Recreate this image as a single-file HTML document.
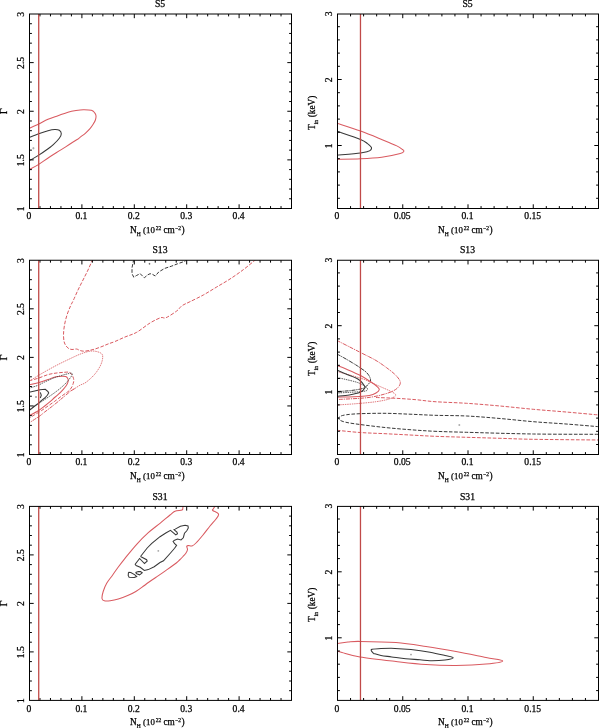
<!DOCTYPE html><html><head><meta charset="utf-8"><style>html,body{margin:0;padding:0;background:#fff;}svg{display:block;will-change:transform;}</style></head><body>
<svg width="600" height="728" viewBox="0 0 600 728" font-family='"Liberation Serif", serif' fill="#000"><style>text{stroke:#000;stroke-width:0.25px;}</style>
<rect width="600" height="728" fill="#fff"/>
<defs>
<clipPath id="cl0"><rect x="29.5" y="14.5" width="262" height="194"/></clipPath>
<clipPath id="cr0"><rect x="337.5" y="14.5" width="261" height="194"/></clipPath>
<clipPath id="cl1"><rect x="29.5" y="260.5" width="262" height="194"/></clipPath>
<clipPath id="cr1"><rect x="337.5" y="260.5" width="261" height="194"/></clipPath>
<clipPath id="cl2"><rect x="29.5" y="506.5" width="262" height="194"/></clipPath>
<clipPath id="cr2"><rect x="337.5" y="506.5" width="261" height="194"/></clipPath>
</defs>
<g clip-path="url(#cl0)">
<path d="M29,128.4C30.62,127.67 35.53,125.52 38.7,124C41.87,122.48 44.78,120.68 48,119.3C51.22,117.92 54.67,116.88 58,115.7C61.33,114.52 65,113.07 68,112.2C71,111.33 73.45,110.92 76,110.5C78.55,110.08 80.75,109.73 83.3,109.7C85.85,109.67 89.4,109.78 91.3,110.3C93.2,110.82 93.92,111.88 94.7,112.8C95.48,113.72 95.88,114.6 96,115.8C96.12,117 95.85,118.63 95.4,120C94.95,121.37 94.2,122.55 93.3,124C92.4,125.45 91.33,127.15 90,128.7C88.67,130.25 86.97,131.87 85.3,133.3C83.63,134.73 81.43,136.22 80,137.3C78.57,138.38 79.82,137.75 76.7,139.8C73.58,141.85 65.95,146.65 61.3,149.6C56.65,152.55 52.62,155 48.8,157.5C44.98,160 41.7,162.55 38.4,164.6C35.1,166.65 30.57,168.93 29,169.8" stroke="#d95a60" stroke-width="1.05" fill="none"/>
<path d="M29,137.5C30.62,136.87 35.53,134.83 38.7,133.7C41.87,132.57 45.33,131.4 48,130.7C50.67,130 52.82,129.57 54.7,129.5C56.58,129.43 58.2,129.6 59.3,130.3C60.4,131 61.3,132.37 61.3,133.7C61.3,135.03 60.63,136.47 59.3,138.3C57.97,140.13 55.05,143.05 53.3,144.7C51.55,146.35 51.28,146.42 48.8,148.2C46.32,149.98 41.03,153.67 38.4,155.4C35.77,157.13 34.57,157.75 33,158.6C31.43,159.45 29.67,160.18 29,160.5" stroke="#383838" stroke-width="1.05" fill="none"/>
<path d="M32.2,148.2H34.6M33.4,147V149.4" stroke="#888" stroke-width="0.6"/>
</g>
<g clip-path="url(#cr0)">
<path d="M337,123.3C340.92,124.6 353.05,128.4 360.5,131.1C367.95,133.8 375.65,137.03 381.7,139.5C387.75,141.97 393.33,144.23 396.8,145.9C400.27,147.57 401.33,148.62 402.5,149.5C403.67,150.38 404.17,150.53 403.8,151.2C403.43,151.87 403.98,152.5 400.3,153.5C396.62,154.5 388.33,156.32 381.7,157.2C375.07,158.08 367.95,158.45 360.5,158.8C353.05,159.15 340.92,159.22 337,159.3" stroke="#d95a60" stroke-width="1.05" fill="none"/>
<path d="M337,131.3C340.92,132.67 355.42,137.45 360.5,139.5C365.58,141.55 365.7,142.32 367.5,143.6C369.3,144.88 370.75,146.17 371.3,147.2C371.85,148.23 371.43,149.07 370.8,149.8C370.17,150.53 369.22,151.08 367.5,151.6C365.78,152.12 365.58,152.28 360.5,152.9C355.42,153.52 340.92,154.9 337,155.3" stroke="#383838" stroke-width="1.05" fill="none"/>
</g>
<g clip-path="url(#cl1)">
<path d="M92.8,259C92,260.83 89.63,266.5 88,270C86.37,273.5 84.67,276.67 83,280C81.33,283.33 79.58,286.67 78,290C76.42,293.33 74.75,297.33 73.5,300C72.25,302.67 71.58,303.5 70.5,306C69.42,308.5 68,311.83 67,315C66,318.17 65.08,321.67 64.5,325C63.92,328.33 63.5,332 63.5,335C63.5,338 63.75,340.83 64.5,343C65.25,345.17 66.75,346.92 68,348C69.25,349.08 70.58,349.33 72,349.5C73.42,349.67 75.17,348.83 76.5,349C77.83,349.17 78.75,350.13 80,350.5C81.25,350.87 82.5,351.2 84,351.2C85.5,351.2 87.17,350.87 89,350.5C90.83,350.13 92.83,349.67 95,349C97.17,348.33 99.83,347.33 102,346.5C104.17,345.67 105.83,344.83 108,344C110.17,343.17 112.17,342.67 115,341.5C117.83,340.33 121.38,338.53 125,337C128.62,335.47 132.53,334.63 136.7,332.3C140.87,329.97 146,325.43 150,323C154,320.57 158.03,318.58 160.7,317.7C163.37,316.82 163.33,318.82 166,317.7C168.67,316.58 174.03,313 176.7,311C179.37,309 179.78,307.25 182,305.7C184.22,304.15 186.45,303.48 190,301.7C193.55,299.92 198.85,297.45 203.3,295C207.75,292.55 212.25,289.67 216.7,287C221.15,284.33 225.57,281.88 230,279C234.43,276.12 238.88,273.03 243.3,269.7C247.72,266.37 254.3,260.78 256.5,259" stroke="#d95a60" stroke-width="1" fill="none" stroke-dasharray="3.6,1.6"/>
<path d="M133.8,259 L132,267.8 L132,273.7 L133.75,277.2 L136.7,275.4 L140.2,273.7 L144.3,277.8 L147.8,274.8 L150.1,273.7 L152.4,274.3 L155.3,276 L158.8,271.9 L164.7,268.4 L171.7,266.1 L177.5,263.8 L184.5,261.4 L188,259" stroke="#383838" stroke-width="1" fill="none" stroke-dasharray="3.6,1.6"/>
<path d="M148.6,263.8H150.4M149.5,262.9V264.7" stroke="#444" stroke-width="0.6"/>
<path d="M29,381.5C30.62,380.47 34.42,377.83 38.7,375.3C42.98,372.77 49.82,368.9 54.7,366.3C59.58,363.7 63.57,361.8 68,359.7C72.43,357.6 77.3,355.15 81.3,353.7C85.3,352.25 88.77,351.12 92,351C95.23,350.88 98.92,352 100.7,353C102.48,354 102.7,355 102.7,357C102.7,359 102.03,362.12 100.7,365C99.37,367.88 97.15,371.42 94.7,374.3C92.25,377.18 88.45,380.48 86,382.3C83.55,384.12 81.88,384.15 80,385.2C78.12,386.25 76.3,387.6 74.7,388.6C73.1,389.6 71.12,390.77 70.4,391.2" stroke="#d95a60" stroke-width="0.8" fill="none" stroke-dasharray="1.5,0.8"/>
<path d="M74.7,388.6C73.98,389.03 71.52,390.42 70.4,391.2C69.28,391.98 69.4,392.12 68,393.3C66.6,394.48 64,396.63 62,398.3C60,399.97 58,401.68 56,403.3C54,404.92 51.88,406.55 50,408C48.12,409.45 46.25,410.78 44.7,412C43.15,413.22 42.03,414.3 40.7,415.3C39.37,416.3 38.65,416.72 36.7,418C34.75,419.28 30.28,422.17 29,423" stroke="#d95a60" stroke-width="1" fill="none" stroke-dasharray="4,0.9,1.2,0.9"/>
<path d="M29,380.8C30.55,380.37 35.13,379.23 38.3,378.2C41.47,377.17 45.05,375.45 48,374.6C50.95,373.75 53.33,373.48 56,373.1C58.67,372.72 61.78,372.43 64,372.3C66.22,372.17 67.97,371.87 69.3,372.3C70.63,372.73 71.28,373.83 72,374.9C72.72,375.97 73.33,377.53 73.6,378.7C73.87,379.87 73.87,380.57 73.6,381.9C73.33,383.23 72.72,385.27 72,386.7C71.28,388.13 70.28,389.45 69.3,390.5C68.32,391.55 67.43,392.03 66.1,393C64.77,393.97 63.2,394.92 61.3,396.3C59.4,397.68 56.92,399.68 54.7,401.3C52.48,402.92 50.23,404.43 48,406C45.77,407.57 43.52,409.25 41.3,410.7C39.08,412.15 36.75,413.43 34.7,414.7C32.65,415.97 29.95,417.7 29,418.3" stroke="#d95a60" stroke-width="1" fill="none" stroke-dasharray="3.6,1.6"/>
<path d="M29,385C30.55,384.62 35.13,383.6 38.3,382.7C41.47,381.8 45.5,380.48 48,379.6C50.5,378.72 51.52,377.93 53.3,377.4C55.08,376.87 56.65,376.55 58.7,376.4C60.75,376.25 64.1,376.15 65.6,376.5C67.1,376.85 67.25,377.78 67.7,378.5C68.15,379.22 68.35,379.97 68.3,380.8C68.25,381.63 67.78,382.63 67.4,383.5C67.02,384.37 66.68,385.03 66,386C65.32,386.97 64.63,387.85 63.3,389.3C61.97,390.75 59.55,393.25 58,394.7C56.45,396.15 55.12,397 54,398C52.88,399 52.85,399.37 51.3,400.7C49.75,402.03 46.87,404.33 44.7,406C42.53,407.67 40.92,409.07 38.3,410.7C35.68,412.33 30.55,414.95 29,415.8" stroke="#d95a60" stroke-width="1.05" fill="none"/>
<path d="M29,388.3C30.5,387.8 35.38,386.35 38,385.3C40.62,384.25 41.87,383.3 44.7,382C47.53,380.7 51.62,378.75 55,377.5C58.38,376.25 62.25,375.22 65,374.5C67.75,373.78 70.37,373.03 71.5,373.2C72.63,373.37 72.33,374.32 71.8,375.5C71.27,376.68 69.35,378.97 68.3,380.3C67.25,381.63 66.83,382.17 65.5,383.5C64.17,384.83 62.07,386.8 60.3,388.3C58.53,389.8 56.7,391.17 54.9,392.5C53.1,393.83 51.2,395.13 49.5,396.3C47.8,397.47 46.62,398.22 44.7,399.5C42.78,400.78 40.62,402.25 38,404C35.38,405.75 30.5,409 29,410" stroke="#383838" stroke-width="0.8" fill="none" stroke-dasharray="1.5,0.8"/>
<path d="M29,392.3 L34.7,391 L40,389.7 L45.3,389.3 L48,391.7 L48.7,393 L47.3,395.3 L44.7,398 L41.3,400.7 L38.3,403.3 L34.7,406 L30.7,409.3 L29,410.5" stroke="#383838" stroke-width="1.05" fill="none"/>
<path d="M40.3,392.3 L41.3,395.3 L40.3,398" stroke="#383838" stroke-width="1.05" fill="none"/>
<path d="M35.1,397H36.9M36,396.1V397.9" stroke="#666" stroke-width="0.6"/>
</g>
<g clip-path="url(#cr1)">
<path d="M337,340.5C340.92,342.5 354,349.17 360.5,352.5C367,355.83 371.37,357.75 376,360.5C380.63,363.25 384.97,366.5 388.3,369C391.63,371.5 394,373.33 396,375.5C398,377.67 399.97,380 400.3,382C400.63,384 399.38,385.92 398,387.5C396.62,389.08 394.5,390.33 392,391.5C389.5,392.67 386.33,393.58 383,394.5C379.67,395.42 375.83,396.37 372,397C368.17,397.63 365.83,397.88 360,398.3C354.17,398.72 340.83,399.3 337,399.5" stroke="#d95a60" stroke-width="1" fill="none" stroke-dasharray="4,0.9,1.2,0.9"/>
<path d="M337,354C338.5,354.83 342.83,357.17 346,359C349.17,360.83 353.58,363.5 356,365C358.42,366.5 358.83,366.83 360.5,368C362.17,369.17 364.5,370.58 366,372C367.5,373.42 368.75,375 369.5,376.5C370.25,378 370.75,379.67 370.5,381C370.25,382.33 369.08,383.33 368,384.5C366.92,385.67 366.17,387.08 364,388C361.83,388.92 358,389.5 355,390C352,390.5 349,390.75 346,391C343,391.25 338.5,391.42 337,391.5" stroke="#383838" stroke-width="1" fill="none" stroke-dasharray="4,0.9,1.2,0.9"/>
<path d="M337,371.5C341,372.63 355.33,376.47 361,378.3C366.67,380.13 367.83,381.13 371,382.5C374.17,383.87 377,385.17 380,386.5C383,387.83 386.58,389.33 389,390.5C391.42,391.67 393.42,392.62 394.5,393.5C395.58,394.38 396.37,394.88 395.5,395.8C394.63,396.72 392.55,398.02 389.3,399C386.05,399.98 381.55,400.92 376,401.7C370.45,402.48 362.5,403.15 356,403.7C349.5,404.25 340.17,404.78 337,405" stroke="#d95a60" stroke-width="0.8" fill="none" stroke-dasharray="1.5,0.8"/>
<path d="M337,365.5C338.5,366.08 342.08,367.33 346,369C349.92,370.67 356.33,373.33 360.5,375.5C364.67,377.67 368.33,380.25 371,382C373.67,383.75 375.12,384.75 376.5,386C377.88,387.25 379.38,388.33 379.3,389.5C379.22,390.67 377.67,392 376,393C374.33,394 371.97,394.92 369.3,395.5C366.63,396.08 365.38,396.22 360,396.5C354.62,396.78 340.83,397.08 337,397.2" stroke="#d95a60" stroke-width="1.05" fill="none"/>
<path d="M337,370C338.5,370.67 342.83,372.67 346,374C349.17,375.33 353.58,376.83 356,378C358.42,379.17 359.25,379.92 360.5,381C361.75,382.08 362.78,383.33 363.5,384.5C364.22,385.67 365.38,386.7 364.8,388C364.22,389.3 362.58,391.13 360,392.3C357.42,393.47 353.13,394.33 349.3,395C345.47,395.67 339.05,396.08 337,396.3" stroke="#383838" stroke-width="1.05" fill="none"/>
<path d="M337,377.5C338.5,377.83 342.83,378.75 346,379.5C349.17,380.25 353.5,381.25 356,382C358.5,382.75 359.33,383.17 361,384C362.67,384.83 364.92,386.08 366,387C367.08,387.92 367.83,388.78 367.5,389.5C367.17,390.22 366.92,390.83 364,391.3C361.08,391.77 354.5,392.02 350,392.3C345.5,392.58 339.17,392.88 337,393" stroke="#383838" stroke-width="0.8" fill="none" stroke-dasharray="1.5,0.8"/>
<path d="M376,397.5C379.33,397.63 389.33,397.93 396,398.3C402.67,398.67 409.5,399.13 416,399.7C422.5,400.27 426.55,401.1 435,401.7C443.45,402.3 455.87,402.58 466.7,403.3C477.53,404.02 488.9,405 500,406C511.1,407 522.3,408.3 533.3,409.3C544.3,410.3 555.05,411.05 566,412C576.95,412.95 593.5,414.5 599,415" stroke="#d95a60" stroke-width="1" fill="none" stroke-dasharray="3.6,1.6"/>
<path d="M337,430.3C340.83,430.67 352,431.93 360,432.5C368,433.07 376.67,433.28 385,433.7C393.33,434.12 401.67,434.57 410,435C418.33,435.43 425.55,435.92 435,436.3C444.45,436.68 455.87,436.97 466.7,437.3C477.53,437.63 488.9,437.97 500,438.3C511.1,438.63 516.8,439.02 533.3,439.3C549.8,439.58 588.05,439.88 599,440" stroke="#d95a60" stroke-width="1" fill="none" stroke-dasharray="3.6,1.6"/>
<path d="M599,426.7C593.5,426.25 576.95,424.83 566,424C555.05,423.17 544.3,422.62 533.3,421.7C522.3,420.78 511.1,419.45 500,418.5C488.9,417.55 477.53,416.53 466.7,416C455.87,415.47 444.45,415.6 435,415.3C425.55,415 418.33,414.53 410,414.2C401.67,413.87 393.33,413.38 385,413.3C376.67,413.22 366.5,413.45 360,413.7C353.5,413.95 349.42,414.28 346,414.8C342.58,415.32 340.58,415.97 339.5,416.8C338.42,417.63 338.42,418.88 339.5,419.8C340.58,420.72 342.58,421.52 346,422.3C349.42,423.08 353.5,423.63 360,424.5C366.5,425.37 376.67,426.63 385,427.5C393.33,428.37 401.67,429.07 410,429.7C418.33,430.33 425.55,430.87 435,431.3C444.45,431.73 450.32,431.85 466.7,432.3C483.08,432.75 511.25,433.67 533.3,434C555.35,434.33 588.05,434.25 599,434.3" stroke="#383838" stroke-width="1" fill="none" stroke-dasharray="3.6,1.6"/>
<path d="M458.3,425H460.3M459.3,424V426" stroke="#888" stroke-width="0.6"/>
</g>
<g clip-path="url(#cl2)">
<path d="M183.2,505C183.13,505.5 183,507.17 182.8,508C182.6,508.83 183.3,509.47 182,510C180.7,510.53 177,510.37 175,511.2C173,512.03 172.5,512.98 170,515C167.5,517.02 163.62,520.35 160,523.3C156.38,526.25 152.18,529.2 148.3,532.7C144.42,536.2 140.58,540.03 136.7,544.3C132.82,548.57 128.07,554.52 125,558.3C121.93,562.08 120.38,564.18 118.3,567C116.22,569.82 114.43,572.48 112.5,575.2C110.57,577.92 108.25,580.58 106.7,583.3C105.15,586.02 103.98,588.97 103.2,591.5C102.42,594.03 101.82,596.95 102,598.5C102.18,600.05 102.93,600.42 104.3,600.8C105.67,601.18 107.87,601.08 110.2,600.8C112.53,600.52 115.38,599.97 118.3,599.1C121.22,598.23 124.78,596.87 127.7,595.6C130.62,594.33 133.08,593.15 135.8,591.5C138.52,589.85 141.85,587.25 144,585.7C146.15,584.15 146.75,583.57 148.7,582.2C150.65,580.83 152.98,579.35 155.7,577.5C158.42,575.65 161.57,573.52 165,571.1C168.43,568.68 173.8,564.93 176.3,563C178.8,561.07 178.88,560.58 180,559.5C181.12,558.42 182,557.58 183,556.5C184,555.42 185.25,554.17 186,553C186.75,551.83 187.38,550.62 187.5,549.5C187.62,548.38 186.53,546.95 186.7,546.3C186.87,545.65 187.62,545.65 188.5,545.6C189.38,545.55 190.75,546.43 192,546C193.25,545.57 194.17,544.83 196,543C197.83,541.17 200.67,537.83 203,535C205.33,532.17 207.83,528.67 210,526C212.17,523.33 214.58,521 216,519C217.42,517 219.03,515.42 218.5,514C217.97,512.58 213.68,511.33 212.8,510.5C211.92,509.67 212.7,509.92 213.2,509C213.7,508.08 215.37,505.67 215.8,505" stroke="#d95a60" stroke-width="1.05" fill="none"/>
<path d="M140.5,556.5 L147.2,548 L151.8,543.3 L160,536.7 L165.8,533 L170.5,530.3 L175.8,534.9 L177.5,533.8 L176.9,532 L174,529.7 L175.2,529.1 L180.4,526.2 L185.1,525.3 L188,525.9 L188.3,527.9 L186.8,530.8 L184.5,533.2 L183.9,535.5 L183.3,537.8 L181,539.9 L177.5,539 L174.6,540.2 L173.1,541.3 L174.6,543.7 L176.6,545.4 L174.6,548.3 L170.5,553 L163.5,560.8 L160,562.5 L154.2,566.7 L148.3,569.6 L144.3,570.5 L140.2,567.3 L136.1,565.5 L135.2,564.3 L139.6,558.5 L144.5,563.5 L147.2,561.1 L146.6,559.7 L140.5,556.5" stroke="#383838" stroke-width="1.05" fill="none"/>
<path d="M128.5,572.2 L130.8,572.5 L134.9,574.8 L136.7,576.6 L134.3,577.5 L129.1,577.2 L128.2,575.4 L128.5,572.2" stroke="#383838" stroke-width="1.05" fill="none"/>
<path d="M135.5,572.5 L138.4,571.6 L140.5,571.6 L142.2,572.8 L139.6,574.8 L136.7,573.7 L135.5,572.5" stroke="#383838" stroke-width="1.05" fill="none"/>
<path d="M157.4,550.9H159.2M158.3,550V551.8" stroke="#888" stroke-width="0.6"/>
</g>
<g clip-path="url(#cr2)">
<path d="M337,643.5C338.83,643.25 344.17,642.35 348,642C351.83,641.65 352,641.3 360,641.4C368,641.5 385,641.75 396,642.6C407,643.45 416,645 426,646.5C436,648 446,649.75 456,651.6C466,653.45 478.22,656.05 486,657.6C493.78,659.15 502.7,659.83 502.7,660.9C502.7,661.97 493.78,663.25 486,664C478.22,664.75 466,665.32 456,665.4C446,665.48 436,665.15 426,664.5C416,663.85 407,662.75 396,661.5C385,660.25 369,658.5 360,657C351,655.5 345.83,653.5 342,652.5C338.17,651.5 337.83,651.25 337,651" stroke="#d95a60" stroke-width="1.05" fill="none"/>
<path d="M373.5,653.4C373.15,652.75 370.15,650.3 371.4,649.5C372.65,648.7 377.07,648.78 381,648.6C384.93,648.42 390,648.25 395,648.4C400,648.55 405.17,648.87 411,649.5C416.83,650.13 424.33,651.2 430,652.2C435.67,653.2 441.13,654.58 445,655.5C448.87,656.42 453.2,656.95 453.2,657.7C453.2,658.45 448.87,659.5 445,660C441.13,660.5 434.17,660.75 430,660.7C425.83,660.65 424.03,660.02 420,659.7C415.97,659.38 410.52,659.27 405.8,658.8C401.08,658.33 395.83,657.45 391.7,656.9C387.57,656.35 384.03,656.08 381,655.5C377.97,654.92 374.75,653.75 373.5,653.4" stroke="#383838" stroke-width="1.05" fill="none"/>
<path d="M410.1,654.6H411.9M411,653.7V655.5" stroke="#888" stroke-width="0.6"/>
</g>
<path d="M39.98,208.5v-2.4M39.98,14v2.4M50.46,208.5v-2.4M50.46,14v2.4M60.94,208.5v-2.4M60.94,14v2.4M71.42,208.5v-2.4M71.42,14v2.4M81.9,208.5v-4.2M81.9,14v4.2M92.38,208.5v-2.4M92.38,14v2.4M102.86,208.5v-2.4M102.86,14v2.4M113.34,208.5v-2.4M113.34,14v2.4M123.82,208.5v-2.4M123.82,14v2.4M134.3,208.5v-4.2M134.3,14v4.2M144.78,208.5v-2.4M144.78,14v2.4M155.26,208.5v-2.4M155.26,14v2.4M165.74,208.5v-2.4M165.74,14v2.4M176.22,208.5v-2.4M176.22,14v2.4M186.7,208.5v-4.2M186.7,14v4.2M197.18,208.5v-2.4M197.18,14v2.4M207.66,208.5v-2.4M207.66,14v2.4M218.14,208.5v-2.4M218.14,14v2.4M228.62,208.5v-2.4M228.62,14v2.4M239.1,208.5v-4.2M239.1,14v4.2M249.58,208.5v-2.4M249.58,14v2.4M260.06,208.5v-2.4M260.06,14v2.4M270.54,208.5v-2.4M270.54,14v2.4M281.02,208.5v-2.4M281.02,14v2.4M29.5,198.78h2.4M291.5,198.78h-2.4M29.5,189.05h2.4M291.5,189.05h-2.4M29.5,179.32h2.4M291.5,179.32h-2.4M29.5,169.6h2.4M291.5,169.6h-2.4M29.5,159.88h4.2M291.5,159.88h-4.2M29.5,150.15h2.4M291.5,150.15h-2.4M29.5,140.43h2.4M291.5,140.43h-2.4M29.5,130.7h2.4M291.5,130.7h-2.4M29.5,120.97h2.4M291.5,120.97h-2.4M29.5,111.25h4.2M291.5,111.25h-4.2M29.5,101.52h2.4M291.5,101.52h-2.4M29.5,91.8h2.4M291.5,91.8h-2.4M29.5,82.07h2.4M291.5,82.07h-2.4M29.5,72.35h2.4M291.5,72.35h-2.4M29.5,62.62h4.2M291.5,62.62h-4.2M29.5,52.9h2.4M291.5,52.9h-2.4M29.5,43.17h2.4M291.5,43.17h-2.4M29.5,33.45h2.4M291.5,33.45h-2.4M29.5,23.72h2.4M291.5,23.72h-2.4" stroke="#000" stroke-width="1" fill="none"/>
<text x="29" y="219.4" text-anchor="middle" font-size="9.6" >0</text>
<text x="81.4" y="219.4" text-anchor="middle" font-size="9.6" >0.1</text>
<text x="133.8" y="219.4" text-anchor="middle" font-size="9.6" >0.2</text>
<text x="186.2" y="219.4" text-anchor="middle" font-size="9.6" >0.3</text>
<text x="238.6" y="219.4" text-anchor="middle" font-size="9.6" >0.4</text>
<text transform="translate(23.8,208.8) rotate(-90)" text-anchor="middle" font-size="9.6" >1</text>
<text transform="translate(23.8,160.18) rotate(-90)" text-anchor="middle" font-size="9.6" >1.5</text>
<text transform="translate(23.8,111.55) rotate(-90)" text-anchor="middle" font-size="9.6" >2</text>
<text transform="translate(23.8,62.92) rotate(-90)" text-anchor="middle" font-size="9.6" >2.5</text>
<text transform="translate(23.8,14.3) rotate(-90)" text-anchor="middle" font-size="9.6" >3</text>
<text x="160" y="7.1" text-anchor="middle" font-size="9.7" >S5</text>
<text x="129.9" y="232.6" font-size="9.3">N</text>
<text x="136.7" y="235.6" font-size="5.5">H</text>
<text x="143.1" y="232.6" font-size="8.8">(10</text>
<text x="155.8" y="229.6" font-size="5.5">22</text>
<text x="163.4" y="232.6" font-size="9.3">cm</text>
<text x="175.1" y="229.6" font-size="5.5">&#8722;2</text>
<text x="181.5" y="232.6" font-size="9.3">)</text>
<text transform="translate(6.8,111.25) rotate(-90)" text-anchor="middle" font-size="10.4" >&#915;</text>
<path d="M38.72,14V208.5" stroke="#c04a48" stroke-width="1.3"/>
<path d="M350.55,208.5v-2.4M350.55,14v2.4M363.6,208.5v-2.4M363.6,14v2.4M376.65,208.5v-2.4M376.65,14v2.4M389.7,208.5v-2.4M389.7,14v2.4M402.75,208.5v-4.2M402.75,14v4.2M415.8,208.5v-2.4M415.8,14v2.4M428.85,208.5v-2.4M428.85,14v2.4M441.9,208.5v-2.4M441.9,14v2.4M454.95,208.5v-2.4M454.95,14v2.4M468,208.5v-4.2M468,14v4.2M481.05,208.5v-2.4M481.05,14v2.4M494.1,208.5v-2.4M494.1,14v2.4M507.15,208.5v-2.4M507.15,14v2.4M520.2,208.5v-2.4M520.2,14v2.4M533.25,208.5v-4.2M533.25,14v4.2M546.3,208.5v-2.4M546.3,14v2.4M559.35,208.5v-2.4M559.35,14v2.4M572.4,208.5v-2.4M572.4,14v2.4M585.45,208.5v-2.4M585.45,14v2.4M337.5,198.3h2.4M598.5,198.3h-2.4M337.5,185.1h2.4M598.5,185.1h-2.4M337.5,171.9h2.4M598.5,171.9h-2.4M337.5,158.7h2.4M598.5,158.7h-2.4M337.5,145.5h4.2M598.5,145.5h-4.2M337.5,132.3h2.4M598.5,132.3h-2.4M337.5,119.1h2.4M598.5,119.1h-2.4M337.5,105.9h2.4M598.5,105.9h-2.4M337.5,92.7h2.4M598.5,92.7h-2.4M337.5,79.5h4.2M598.5,79.5h-4.2M337.5,66.3h2.4M598.5,66.3h-2.4M337.5,53.1h2.4M598.5,53.1h-2.4M337.5,39.9h2.4M598.5,39.9h-2.4M337.5,26.7h2.4M598.5,26.7h-2.4" stroke="#000" stroke-width="1" fill="none"/>
<text x="337" y="219.4" text-anchor="middle" font-size="9.6" >0</text>
<text x="402.25" y="219.4" text-anchor="middle" font-size="9.6" >0.05</text>
<text x="467.5" y="219.4" text-anchor="middle" font-size="9.6" >0.1</text>
<text x="532.75" y="219.4" text-anchor="middle" font-size="9.6" >0.15</text>
<text transform="translate(331.9,145.8) rotate(-90)" text-anchor="middle" font-size="9.6" >1</text>
<text transform="translate(331.9,79.8) rotate(-90)" text-anchor="middle" font-size="9.6" >2</text>
<text transform="translate(331.9,13.8) rotate(-90)" text-anchor="middle" font-size="9.6" >3</text>
<text x="467.5" y="7.1" text-anchor="middle" font-size="9.7" >S5</text>
<text x="437.9" y="232.6" font-size="9.3">N</text>
<text x="444.7" y="235.6" font-size="5.5">H</text>
<text x="451.1" y="232.6" font-size="8.8">(10</text>
<text x="463.8" y="229.6" font-size="5.5">22</text>
<text x="471.4" y="232.6" font-size="9.3">cm</text>
<text x="483.1" y="229.6" font-size="5.5">&#8722;2</text>
<text x="489.5" y="232.6" font-size="9.3">)</text>
<text transform="translate(315,130.1) rotate(-90)" font-size="9.3">T</text>
<text transform="translate(318,124.3) rotate(-90)" font-size="5.5">in</text>
<text transform="translate(315,117.3) rotate(-90)" font-size="9.3">(keV)</text>
<path d="M360.47,14V208.5" stroke="#c04a48" stroke-width="1.3"/>
<rect x="29.5" y="14" width="262" height="194.5" fill="none" stroke="#000" stroke-width="1"/>
<rect x="337.5" y="14" width="261" height="194.5" fill="none" stroke="#000" stroke-width="1"/>
<path d="M39.98,454.5v-2.4M39.98,260.25v2.4M50.46,454.5v-2.4M50.46,260.25v2.4M60.94,454.5v-2.4M60.94,260.25v2.4M71.42,454.5v-2.4M71.42,260.25v2.4M81.9,454.5v-4.2M81.9,260.25v4.2M92.38,454.5v-2.4M92.38,260.25v2.4M102.86,454.5v-2.4M102.86,260.25v2.4M113.34,454.5v-2.4M113.34,260.25v2.4M123.82,454.5v-2.4M123.82,260.25v2.4M134.3,454.5v-4.2M134.3,260.25v4.2M144.78,454.5v-2.4M144.78,260.25v2.4M155.26,454.5v-2.4M155.26,260.25v2.4M165.74,454.5v-2.4M165.74,260.25v2.4M176.22,454.5v-2.4M176.22,260.25v2.4M186.7,454.5v-4.2M186.7,260.25v4.2M197.18,454.5v-2.4M197.18,260.25v2.4M207.66,454.5v-2.4M207.66,260.25v2.4M218.14,454.5v-2.4M218.14,260.25v2.4M228.62,454.5v-2.4M228.62,260.25v2.4M239.1,454.5v-4.2M239.1,260.25v4.2M249.58,454.5v-2.4M249.58,260.25v2.4M260.06,454.5v-2.4M260.06,260.25v2.4M270.54,454.5v-2.4M270.54,260.25v2.4M281.02,454.5v-2.4M281.02,260.25v2.4M29.5,444.79h2.4M291.5,444.79h-2.4M29.5,435.07h2.4M291.5,435.07h-2.4M29.5,425.36h2.4M291.5,425.36h-2.4M29.5,415.65h2.4M291.5,415.65h-2.4M29.5,405.94h4.2M291.5,405.94h-4.2M29.5,396.23h2.4M291.5,396.23h-2.4M29.5,386.51h2.4M291.5,386.51h-2.4M29.5,376.8h2.4M291.5,376.8h-2.4M29.5,367.09h2.4M291.5,367.09h-2.4M29.5,357.38h4.2M291.5,357.38h-4.2M29.5,347.66h2.4M291.5,347.66h-2.4M29.5,337.95h2.4M291.5,337.95h-2.4M29.5,328.24h2.4M291.5,328.24h-2.4M29.5,318.52h2.4M291.5,318.52h-2.4M29.5,308.81h4.2M291.5,308.81h-4.2M29.5,299.1h2.4M291.5,299.1h-2.4M29.5,289.39h2.4M291.5,289.39h-2.4M29.5,279.67h2.4M291.5,279.67h-2.4M29.5,269.96h2.4M291.5,269.96h-2.4" stroke="#000" stroke-width="1" fill="none"/>
<text x="29" y="465.4" text-anchor="middle" font-size="9.6" >0</text>
<text x="81.4" y="465.4" text-anchor="middle" font-size="9.6" >0.1</text>
<text x="133.8" y="465.4" text-anchor="middle" font-size="9.6" >0.2</text>
<text x="186.2" y="465.4" text-anchor="middle" font-size="9.6" >0.3</text>
<text x="238.6" y="465.4" text-anchor="middle" font-size="9.6" >0.4</text>
<text transform="translate(23.8,454.8) rotate(-90)" text-anchor="middle" font-size="9.6" >1</text>
<text transform="translate(23.8,406.24) rotate(-90)" text-anchor="middle" font-size="9.6" >1.5</text>
<text transform="translate(23.8,357.68) rotate(-90)" text-anchor="middle" font-size="9.6" >2</text>
<text transform="translate(23.8,309.11) rotate(-90)" text-anchor="middle" font-size="9.6" >2.5</text>
<text transform="translate(23.8,260.55) rotate(-90)" text-anchor="middle" font-size="9.6" >3</text>
<text x="160" y="253.35" text-anchor="middle" font-size="9.7" >S13</text>
<text x="129.9" y="478.6" font-size="9.3">N</text>
<text x="136.7" y="481.6" font-size="5.5">H</text>
<text x="143.1" y="478.6" font-size="8.8">(10</text>
<text x="155.8" y="475.6" font-size="5.5">22</text>
<text x="163.4" y="478.6" font-size="9.3">cm</text>
<text x="175.1" y="475.6" font-size="5.5">&#8722;2</text>
<text x="181.5" y="478.6" font-size="9.3">)</text>
<text transform="translate(6.8,357.38) rotate(-90)" text-anchor="middle" font-size="10.4" >&#915;</text>
<path d="M38.72,260.25V454.5" stroke="#c04a48" stroke-width="1.3"/>
<path d="M350.55,454.5v-2.4M350.55,260.25v2.4M363.6,454.5v-2.4M363.6,260.25v2.4M376.65,454.5v-2.4M376.65,260.25v2.4M389.7,454.5v-2.4M389.7,260.25v2.4M402.75,454.5v-4.2M402.75,260.25v4.2M415.8,454.5v-2.4M415.8,260.25v2.4M428.85,454.5v-2.4M428.85,260.25v2.4M441.9,454.5v-2.4M441.9,260.25v2.4M454.95,454.5v-2.4M454.95,260.25v2.4M468,454.5v-4.2M468,260.25v4.2M481.05,454.5v-2.4M481.05,260.25v2.4M494.1,454.5v-2.4M494.1,260.25v2.4M507.15,454.5v-2.4M507.15,260.25v2.4M520.2,454.5v-2.4M520.2,260.25v2.4M533.25,454.5v-4.2M533.25,260.25v4.2M546.3,454.5v-2.4M546.3,260.25v2.4M559.35,454.5v-2.4M559.35,260.25v2.4M572.4,454.5v-2.4M572.4,260.25v2.4M585.45,454.5v-2.4M585.45,260.25v2.4M337.5,444.5h2.4M598.5,444.5h-2.4M337.5,431.3h2.4M598.5,431.3h-2.4M337.5,418.1h2.4M598.5,418.1h-2.4M337.5,404.9h2.4M598.5,404.9h-2.4M337.5,391.7h4.2M598.5,391.7h-4.2M337.5,378.5h2.4M598.5,378.5h-2.4M337.5,365.3h2.4M598.5,365.3h-2.4M337.5,352.1h2.4M598.5,352.1h-2.4M337.5,338.9h2.4M598.5,338.9h-2.4M337.5,325.7h4.2M598.5,325.7h-4.2M337.5,312.5h2.4M598.5,312.5h-2.4M337.5,299.3h2.4M598.5,299.3h-2.4M337.5,286.1h2.4M598.5,286.1h-2.4M337.5,272.9h2.4M598.5,272.9h-2.4" stroke="#000" stroke-width="1" fill="none"/>
<text x="337" y="465.4" text-anchor="middle" font-size="9.6" >0</text>
<text x="402.25" y="465.4" text-anchor="middle" font-size="9.6" >0.05</text>
<text x="467.5" y="465.4" text-anchor="middle" font-size="9.6" >0.1</text>
<text x="532.75" y="465.4" text-anchor="middle" font-size="9.6" >0.15</text>
<text transform="translate(331.9,392) rotate(-90)" text-anchor="middle" font-size="9.6" >1</text>
<text transform="translate(331.9,326) rotate(-90)" text-anchor="middle" font-size="9.6" >2</text>
<text transform="translate(331.9,260) rotate(-90)" text-anchor="middle" font-size="9.6" >3</text>
<text x="467.5" y="253.35" text-anchor="middle" font-size="9.7" >S13</text>
<text x="437.9" y="478.6" font-size="9.3">N</text>
<text x="444.7" y="481.6" font-size="5.5">H</text>
<text x="451.1" y="478.6" font-size="8.8">(10</text>
<text x="463.8" y="475.6" font-size="5.5">22</text>
<text x="471.4" y="478.6" font-size="9.3">cm</text>
<text x="483.1" y="475.6" font-size="5.5">&#8722;2</text>
<text x="489.5" y="478.6" font-size="9.3">)</text>
<text transform="translate(315,376.1) rotate(-90)" font-size="9.3">T</text>
<text transform="translate(318,370.3) rotate(-90)" font-size="5.5">in</text>
<text transform="translate(315,363.3) rotate(-90)" font-size="9.3">(keV)</text>
<path d="M360.47,260.25V454.5" stroke="#c04a48" stroke-width="1.3"/>
<rect x="29.5" y="260.25" width="262" height="194.25" fill="none" stroke="#000" stroke-width="1"/>
<rect x="337.5" y="260.25" width="261" height="194.25" fill="none" stroke="#000" stroke-width="1"/>
<path d="M39.98,700.4v-2.4M39.98,506.4v2.4M50.46,700.4v-2.4M50.46,506.4v2.4M60.94,700.4v-2.4M60.94,506.4v2.4M71.42,700.4v-2.4M71.42,506.4v2.4M81.9,700.4v-4.2M81.9,506.4v4.2M92.38,700.4v-2.4M92.38,506.4v2.4M102.86,700.4v-2.4M102.86,506.4v2.4M113.34,700.4v-2.4M113.34,506.4v2.4M123.82,700.4v-2.4M123.82,506.4v2.4M134.3,700.4v-4.2M134.3,506.4v4.2M144.78,700.4v-2.4M144.78,506.4v2.4M155.26,700.4v-2.4M155.26,506.4v2.4M165.74,700.4v-2.4M165.74,506.4v2.4M176.22,700.4v-2.4M176.22,506.4v2.4M186.7,700.4v-4.2M186.7,506.4v4.2M197.18,700.4v-2.4M197.18,506.4v2.4M207.66,700.4v-2.4M207.66,506.4v2.4M218.14,700.4v-2.4M218.14,506.4v2.4M228.62,700.4v-2.4M228.62,506.4v2.4M239.1,700.4v-4.2M239.1,506.4v4.2M249.58,700.4v-2.4M249.58,506.4v2.4M260.06,700.4v-2.4M260.06,506.4v2.4M270.54,700.4v-2.4M270.54,506.4v2.4M281.02,700.4v-2.4M281.02,506.4v2.4M29.5,690.7h2.4M291.5,690.7h-2.4M29.5,681h2.4M291.5,681h-2.4M29.5,671.3h2.4M291.5,671.3h-2.4M29.5,661.6h2.4M291.5,661.6h-2.4M29.5,651.9h4.2M291.5,651.9h-4.2M29.5,642.2h2.4M291.5,642.2h-2.4M29.5,632.5h2.4M291.5,632.5h-2.4M29.5,622.8h2.4M291.5,622.8h-2.4M29.5,613.1h2.4M291.5,613.1h-2.4M29.5,603.4h4.2M291.5,603.4h-4.2M29.5,593.7h2.4M291.5,593.7h-2.4M29.5,584h2.4M291.5,584h-2.4M29.5,574.3h2.4M291.5,574.3h-2.4M29.5,564.6h2.4M291.5,564.6h-2.4M29.5,554.9h4.2M291.5,554.9h-4.2M29.5,545.2h2.4M291.5,545.2h-2.4M29.5,535.5h2.4M291.5,535.5h-2.4M29.5,525.8h2.4M291.5,525.8h-2.4M29.5,516.1h2.4M291.5,516.1h-2.4" stroke="#000" stroke-width="1" fill="none"/>
<text x="29" y="711.9" text-anchor="middle" font-size="9.6" >0</text>
<text x="81.4" y="711.9" text-anchor="middle" font-size="9.6" >0.1</text>
<text x="133.8" y="711.9" text-anchor="middle" font-size="9.6" >0.2</text>
<text x="186.2" y="711.9" text-anchor="middle" font-size="9.6" >0.3</text>
<text x="238.6" y="711.9" text-anchor="middle" font-size="9.6" >0.4</text>
<text transform="translate(23.8,700.7) rotate(-90)" text-anchor="middle" font-size="9.6" >1</text>
<text transform="translate(23.8,652.2) rotate(-90)" text-anchor="middle" font-size="9.6" >1.5</text>
<text transform="translate(23.8,603.7) rotate(-90)" text-anchor="middle" font-size="9.6" >2</text>
<text transform="translate(23.8,555.2) rotate(-90)" text-anchor="middle" font-size="9.6" >2.5</text>
<text transform="translate(23.8,506.7) rotate(-90)" text-anchor="middle" font-size="9.6" >3</text>
<text x="160" y="499.5" text-anchor="middle" font-size="9.7" >S31</text>
<text x="129.9" y="724.5" font-size="9.3">N</text>
<text x="136.7" y="727.5" font-size="5.5">H</text>
<text x="143.1" y="724.5" font-size="8.8">(10</text>
<text x="155.8" y="721.5" font-size="5.5">22</text>
<text x="163.4" y="724.5" font-size="9.3">cm</text>
<text x="175.1" y="721.5" font-size="5.5">&#8722;2</text>
<text x="181.5" y="724.5" font-size="9.3">)</text>
<text transform="translate(6.8,603.4) rotate(-90)" text-anchor="middle" font-size="10.4" >&#915;</text>
<path d="M38.72,506.4V700.4" stroke="#c04a48" stroke-width="1.3"/>
<path d="M350.55,700.4v-2.4M350.55,506.4v2.4M363.6,700.4v-2.4M363.6,506.4v2.4M376.65,700.4v-2.4M376.65,506.4v2.4M389.7,700.4v-2.4M389.7,506.4v2.4M402.75,700.4v-4.2M402.75,506.4v4.2M415.8,700.4v-2.4M415.8,506.4v2.4M428.85,700.4v-2.4M428.85,506.4v2.4M441.9,700.4v-2.4M441.9,506.4v2.4M454.95,700.4v-2.4M454.95,506.4v2.4M468,700.4v-4.2M468,506.4v4.2M481.05,700.4v-2.4M481.05,506.4v2.4M494.1,700.4v-2.4M494.1,506.4v2.4M507.15,700.4v-2.4M507.15,506.4v2.4M520.2,700.4v-2.4M520.2,506.4v2.4M533.25,700.4v-4.2M533.25,506.4v4.2M546.3,700.4v-2.4M546.3,506.4v2.4M559.35,700.4v-2.4M559.35,506.4v2.4M572.4,700.4v-2.4M572.4,506.4v2.4M585.45,700.4v-2.4M585.45,506.4v2.4M337.5,690.6h2.4M598.5,690.6h-2.4M337.5,677.4h2.4M598.5,677.4h-2.4M337.5,664.2h2.4M598.5,664.2h-2.4M337.5,651h2.4M598.5,651h-2.4M337.5,637.8h4.2M598.5,637.8h-4.2M337.5,624.6h2.4M598.5,624.6h-2.4M337.5,611.4h2.4M598.5,611.4h-2.4M337.5,598.2h2.4M598.5,598.2h-2.4M337.5,585h2.4M598.5,585h-2.4M337.5,571.8h4.2M598.5,571.8h-4.2M337.5,558.6h2.4M598.5,558.6h-2.4M337.5,545.4h2.4M598.5,545.4h-2.4M337.5,532.2h2.4M598.5,532.2h-2.4M337.5,519h2.4M598.5,519h-2.4" stroke="#000" stroke-width="1" fill="none"/>
<text x="337" y="711.9" text-anchor="middle" font-size="9.6" >0</text>
<text x="402.25" y="711.9" text-anchor="middle" font-size="9.6" >0.05</text>
<text x="467.5" y="711.9" text-anchor="middle" font-size="9.6" >0.1</text>
<text x="532.75" y="711.9" text-anchor="middle" font-size="9.6" >0.15</text>
<text transform="translate(331.9,638.1) rotate(-90)" text-anchor="middle" font-size="9.6" >1</text>
<text transform="translate(331.9,572.1) rotate(-90)" text-anchor="middle" font-size="9.6" >2</text>
<text transform="translate(331.9,506.1) rotate(-90)" text-anchor="middle" font-size="9.6" >3</text>
<text x="467.5" y="499.5" text-anchor="middle" font-size="9.7" >S31</text>
<text x="437.9" y="724.5" font-size="9.3">N</text>
<text x="444.7" y="727.5" font-size="5.5">H</text>
<text x="451.1" y="724.5" font-size="8.8">(10</text>
<text x="463.8" y="721.5" font-size="5.5">22</text>
<text x="471.4" y="724.5" font-size="9.3">cm</text>
<text x="483.1" y="721.5" font-size="5.5">&#8722;2</text>
<text x="489.5" y="724.5" font-size="9.3">)</text>
<text transform="translate(315,622.1) rotate(-90)" font-size="9.3">T</text>
<text transform="translate(318,616.3) rotate(-90)" font-size="5.5">in</text>
<text transform="translate(315,609.3) rotate(-90)" font-size="9.3">(keV)</text>
<path d="M360.47,506.4V700.4" stroke="#c04a48" stroke-width="1.3"/>
<rect x="29.5" y="506.4" width="262" height="194" fill="none" stroke="#000" stroke-width="1"/>
<rect x="337.5" y="506.4" width="261" height="194" fill="none" stroke="#000" stroke-width="1"/>
</svg></body></html>
